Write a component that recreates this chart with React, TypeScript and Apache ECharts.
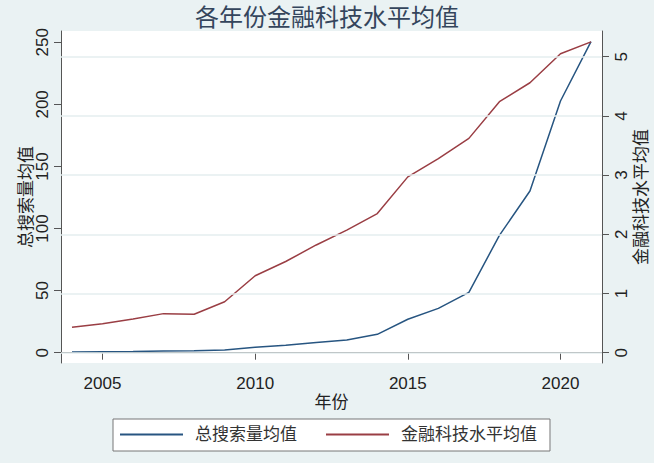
import React, { useEffect, useRef } from "react";
import * as echarts from "echarts";

const years = [2004, 2005, 2006, 2007, 2008, 2009, 2010, 2011, 2012, 2013, 2014, 2015, 2016, 2017, 2018, 2019, 2020, 2021];
const searchMean = [0.5, 0.8, 1.0, 1.3, 1.5, 2.2, 4.3, 5.9, 8.3, 10.2, 14.8, 26.9, 35.7, 48.6, 94.5, 130.2, 202.7, 250.5];
const fintechMean = [0.43, 0.49, 0.57, 0.66, 0.65, 0.86, 1.3, 1.54, 1.82, 2.07, 2.35, 2.97, 3.28, 3.62, 4.24, 4.56, 5.05, 5.25];
const xTicks = [2005, 2010, 2015, 2020];
const leftTicks = [0, 50, 100, 150, 200, 250];
const rightTicks = [0, 1, 2, 3, 4, 5];
const seriesNames = ["总搜索量均值", "金融科技水平均值"];
const titleText = "各年份金融科技水平均值";
const xName = "年份";

const FONT = "'Liberation Sans', 'Noto Sans CJK SC', sans-serif";
const AXIS_COLOR = "#555";
const TEXT_COLOR = "#222";

export default function App() {
  const ref = useRef<HTMLDivElement>(null);
  useEffect(() => {
    document.body.style.margin = "0";
    const chart = echarts.init(ref.current!, undefined, { renderer: "svg" });
    const axisCommon = {
      axisLine: { show: true, lineStyle: { color: AXIS_COLOR, width: 1 } },
      splitLine: { show: false },
      nameMoveOverlap: false,
      nameTextStyle: { fontFamily: FONT, fontSize: 17, color: TEXT_COLOR },
    };
    chart.setOption({
      animation: false,
      backgroundColor: "#eaf2f3",
      textStyle: { fontFamily: FONT },
      title: {
        text: titleText,
        left: "center",
        top: 5,
        padding: 0,
        textStyle: { fontFamily: FONT, fontSize: 24, fontWeight: "normal", color: "#34455c" },
      },
      legend: {
        data: seriesNames,
        left: 113,
        top: 419,
        padding: [7, 13, 8, 7],
        itemGap: 29,
        itemWidth: 63,
        itemHeight: 2,
        icon: "rect",
        backgroundColor: "#ffffff",
        borderColor: "#777",
        borderWidth: 1,
        borderRadius: 0,
        textStyle: { fontFamily: FONT, fontSize: 17, color: "#333", padding: [0, 0, 0, 7] },
      },
      grid: {
        left: 61,
        top: 31,
        width: 541,
        height: 332,
        backgroundColor: "#ffffff",
        show: true,
        borderWidth: 0,
        containLabel: false,
        outerBoundsMode: "none",
      },
      xAxis: {
        type: "value",
        min: 2003.64,
        max: 2021.36,
        name: xName,
        nameLocation: "middle",
        nameGap: 31,
        ...axisCommon,
        axisTick: { show: true, length: 7, customValues: xTicks, lineStyle: { color: AXIS_COLOR } },
        axisLabel: {
          customValues: xTicks,
          formatter: (v: number) => String(v),
          margin: 12,
          fontFamily: FONT,
          fontSize: 17,
          color: TEXT_COLOR,
        },
      },
      yAxis: [
        {
          type: "value",
          position: "left",
          min: -8.3,
          max: 259.1,
          name: seriesNames[0],
          nameLocation: "middle",
          nameRotate: 90,
          nameGap: 26,
          ...axisCommon,
          axisTick: { show: true, length: 7, customValues: leftTicks, lineStyle: { color: AXIS_COLOR } },
          axisLabel: { customValues: leftTicks, rotate: 90, margin: 10, fontFamily: FONT, fontSize: 17, color: TEXT_COLOR },
        },
        {
          type: "value",
          position: "right",
          min: -0.174,
          max: 5.434,
          name: seriesNames[1],
          nameLocation: "middle",
          nameRotate: 90,
          nameGap: 31,
          ...axisCommon,
          axisTick: { show: true, length: 7, customValues: rightTicks, lineStyle: { color: AXIS_COLOR } },
          axisLabel: { customValues: rightTicks, rotate: 90, margin: 11, fontFamily: FONT, fontSize: 17, color: TEXT_COLOR },
        },
      ],
      series: [
        {
          name: "grid",
          type: "line",
          yAxisIndex: 1,
          z: 1,
          data: years.map((y, i) => [y, fintechMean[i]]),
          showSymbol: false,
          silent: true,
          lineStyle: { opacity: 0 },
          markLine: {
            silent: true,
            symbol: "none",
            label: { show: false },
            lineStyle: { color: "#e4eeef", width: 1.5, type: "solid" },
            data: rightTicks.map((v) => ({ yAxis: v })),
          },
        },
        {
          name: seriesNames[0],
          type: "line",
          yAxisIndex: 0,
          z: 3,
          data: years.map((y, i) => [y, searchMean[i]]),
          showSymbol: false,
          color: "#275581",
          lineStyle: { color: "#275581", width: 1.5 },
        },
        {
          name: seriesNames[1],
          type: "line",
          yAxisIndex: 1,
          z: 3,
          data: years.map((y, i) => [y, fintechMean[i]]),
          showSymbol: false,
          color: "#9a3e44",
          lineStyle: { color: "#9a3e44", width: 1.5 },
        },
      ],
    });
    return () => chart.dispose();
  }, []);
  return <div ref={ref} style={{ width: 654, height: 463 }} />;
}
